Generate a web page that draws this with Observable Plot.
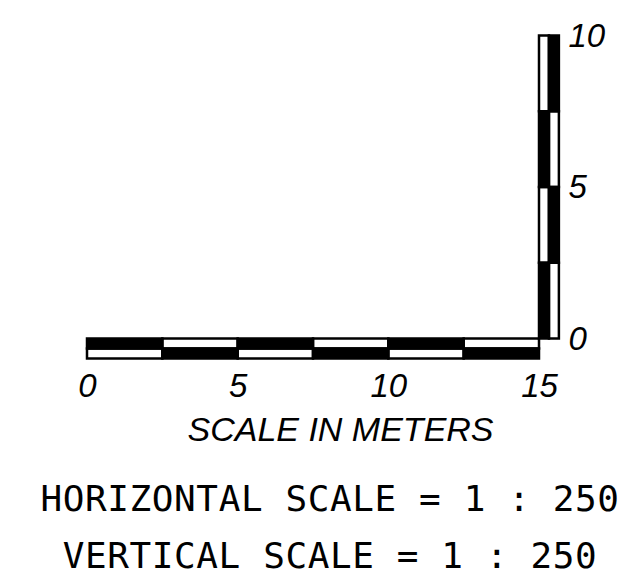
<!DOCTYPE html>
<html>
<head>
<meta charset="utf-8">
<script src="https://cdn.jsdelivr.net/npm/d3@7"></script>
<script src="https://cdn.jsdelivr.net/npm/@observablehq/plot@0.6"></script>
<style>
  html, body { margin: 0; padding: 0; background: #fff; overflow: hidden; }
  #chart svg { display: block; }
  .scale-line {
    position: relative; left: 15px; width: 630px; text-align: center;
    font-family: "DejaVu Sans Mono", monospace; font-size: 36px; letter-spacing: 0.6px;
    line-height: 36px; height: 36px; color: #000; white-space: pre;
  }
  .scale-line.first { margin-top: 12px; }
  .scale-line.second { margin-top: 21px; }
</style>
</head>
<body>
<div id="chart"></div>
<div id="notes"></div>
<script>
// Scale bar segments (metres)
const hSegStarts = [0, 2.5, 5, 7.5, 10, 12.5];   // horizontal bar, 0..15 m
const vSegStarts = [0, 2.5, 5, 7.5];             // vertical bar, 0..10 m
const segLength = 2.5;
const xTicks = [0, 5, 10, 15];
const yTicks = [0, 5, 10];
const xAxisLabel = "SCALE IN METERS";
const scaleLines = ["HORIZONTAL SCALE = 1 : 250", "VERTICAL SCALE = 1 : 250"];

const band = 0.33; // half bar thickness in metres (drawn)
const bands = [0, 1];

// horizontal bar: band 0 (inner, top) starts black, band 1 (outer, bottom) starts white
const hCells = bands.flatMap(b => hSegStarts.map((s, i) => ({
  x1: s, x2: s + segLength, y1: -b * band, y2: -(b + 1) * band, dark: (i + b) % 2 === 0
})));
// vertical bar: band 0 (inner, left) starts black at the bottom
const vCells = bands.flatMap(b => vSegStarts.map((s, j) => ({
  x1: 15 + b * band, x2: 15 + (b + 1) * band, y1: s, y2: s + segLength, dark: (j + b) % 2 === 0
})));
const cells = hCells.concat(vCells);

const tickFont = "'Liberation Sans', 'Open Sans', sans-serif";

const plot = Plot.plot({
  width: 630,
  height: 469,
  marginLeft: 87,
  marginRight: 91,
  marginTop: 35.5,
  marginBottom: 130.5,
  x: {domain: [0, 15]},
  y: {domain: [0, 10]},
  style: {background: "#fff", color: "#000", overflow: "visible"},
  marks: [
    Plot.rect(cells.filter(d => !d.dark), {x1: "x1", x2: "x2", y1: "y1", y2: "y2", fill: "white", stroke: "black", strokeWidth: 2.5}),
    Plot.rect(cells.filter(d => d.dark), {x1: "x1", x2: "x2", y1: "y1", y2: "y2", fill: "black", stroke: "black", strokeWidth: 2.5}),
    Plot.axisX({ticks: xTicks, tickSize: 0, tickPadding: 35, label: null, fontSize: 33, fontStyle: "italic", fontFamily: tickFont, tickFormat: d => String(d)}),
    Plot.axisY({anchor: "right", ticks: yTicks, tickSize: 0, tickPadding: 29, label: null, fontSize: 33, fontStyle: "italic", fontFamily: tickFont, tickFormat: d => String(d)}),
    Plot.text([xAxisLabel], {frameAnchor: "bottom", dx: 27, dy: 91, lineAnchor: "middle", fontSize: 34, fontStyle: "italic", fontFamily: tickFont, fill: "black"})
  ]
});
document.getElementById("chart").appendChild(plot);

const notes = document.getElementById("notes");
scaleLines.forEach((line, i) => {
  const div = document.createElement("div");
  div.className = "scale-line " + (i === 0 ? "first" : "second");
  div.textContent = line;
  notes.appendChild(div);
});
</script>
</body>
</html>
